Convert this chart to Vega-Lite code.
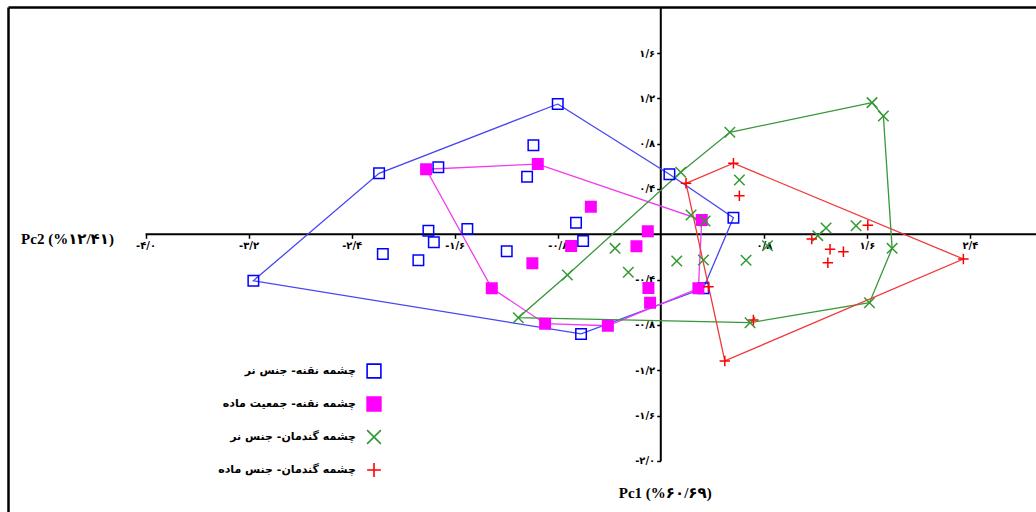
{
  "$schema": "https://vega.github.io/schema/vega-lite/v6.json",
  "width": 1028,
  "height": 505,
  "autosize": "none",
  "padding": {"left": 8, "top": 7, "right": 0, "bottom": 0},
  "background": "white",
  "config": {
    "view": {"stroke": null},
    "axis": {"grid": false, "labelColor": "black", "tickColor": "black", "domainColor": "black", "titleColor": "black"},
    "legend": {"orient": "none", "legendX": 358, "legendY": 356, "labelAlign": "right", "labelOffset": -26,
               "labelFont": "DejaVu Sans", "labelFontWeight": "bold", "labelFontSize": 11, "labelColor": "black",
               "symbolSize": 190, "symbolStrokeWidth": 1.6, "rowPadding": 11, "labelLimit": 300}
  },
  "resolve": {"axis": {"x": "independent", "y": "independent"}},
  "datasets": {
    "pts": [
      {"group": "چشمه نقنه- جنس نر", "x": -0.800, "y": 1.150},
      {"group": "چشمه نقنه- جنس نر", "x": 0.067, "y": 0.530},
      {"group": "چشمه نقنه- جنس نر", "x": 0.564, "y": 0.147},
      {"group": "چشمه نقنه- جنس نر", "x": 0.331, "y": -0.477},
      {"group": "چشمه نقنه- جنس نر", "x": -0.619, "y": -0.879},
      {"group": "چشمه نقنه- جنس نر", "x": -3.163, "y": -0.410},
      {"group": "چشمه نقنه- جنس نر", "x": -2.187, "y": 0.538},
      {"group": "چشمه نقنه- جنس نر", "x": -1.727, "y": 0.591},
      {"group": "چشمه نقنه- جنس نر", "x": -0.989, "y": 0.786},
      {"group": "چشمه نقنه- جنس نر", "x": -1.038, "y": 0.508},
      {"group": "چشمه نقنه- جنس نر", "x": -1.804, "y": 0.032},
      {"group": "چشمه نقنه- جنس نر", "x": -1.502, "y": 0.047},
      {"group": "چشمه نقنه- جنس نر", "x": -1.762, "y": -0.071},
      {"group": "چشمه نقنه- جنس نر", "x": -2.158, "y": -0.174},
      {"group": "چشمه نقنه- جنس نر", "x": -1.882, "y": -0.229},
      {"group": "چشمه نقنه- جنس نر", "x": -1.196, "y": -0.150},
      {"group": "چشمه نقنه- جنس نر", "x": -0.658, "y": 0.102},
      {"group": "چشمه نقنه- جنس نر", "x": -0.603, "y": -0.059},
      {"group": "چشمه نقنه- جمعیت ماده", "x": -1.822, "y": 0.574},
      {"group": "چشمه نقنه- جمعیت ماده", "x": -0.955, "y": 0.620},
      {"group": "چشمه نقنه- جمعیت ماده", "x": 0.318, "y": 0.126},
      {"group": "چشمه نقنه- جمعیت ماده", "x": 0.292, "y": -0.477},
      {"group": "چشمه نقنه- جمعیت ماده", "x": -0.411, "y": -0.807},
      {"group": "چشمه نقنه- جمعیت ماده", "x": -0.898, "y": -0.789},
      {"group": "چشمه نقنه- جمعیت ماده", "x": -1.312, "y": -0.477},
      {"group": "چشمه نقنه- جمعیت ماده", "x": -0.543, "y": 0.244},
      {"group": "چشمه نقنه- جمعیت ماده", "x": -0.101, "y": 0.026},
      {"group": "چشمه نقنه- جمعیت ماده", "x": -0.696, "y": -0.103},
      {"group": "چشمه نقنه- جمعیت ماده", "x": -0.189, "y": -0.106},
      {"group": "چشمه نقنه- جمعیت ماده", "x": -0.997, "y": -0.256},
      {"group": "چشمه نقنه- جمعیت ماده", "x": -0.096, "y": -0.474},
      {"group": "چشمه نقنه- جمعیت ماده", "x": -0.083, "y": -0.604},
      {"group": "چشمه گندمان- جنس نر", "x": 1.640, "y": 1.162},
      {"group": "چشمه گندمان- جنس نر", "x": 1.728, "y": 1.044},
      {"group": "چشمه گندمان- جنس نر", "x": 1.796, "y": -0.124},
      {"group": "چشمه گندمان- جنس نر", "x": 1.620, "y": -0.604},
      {"group": "چشمه گندمان- جنس نر", "x": 0.693, "y": -0.780},
      {"group": "چشمه گندمان- جنس نر", "x": -1.106, "y": -0.736},
      {"group": "چشمه گندمان- جنس نر", "x": -0.725, "y": -0.359},
      {"group": "چشمه گندمان- جنس نر", "x": 0.155, "y": 0.547},
      {"group": "چشمه گندمان- جنس نر", "x": 0.536, "y": 0.900},
      {"group": "چشمه گندمان- جنس نر", "x": 0.610, "y": 0.479},
      {"group": "چشمه گندمان- جنس نر", "x": 0.235, "y": 0.170},
      {"group": "چشمه گندمان- جنس نر", "x": 0.344, "y": 0.117},
      {"group": "چشمه گندمان- جنس نر", "x": 1.283, "y": 0.056},
      {"group": "چشمه گندمان- جنس نر", "x": 1.219, "y": -0.012},
      {"group": "چشمه گندمان- جنس نر", "x": 1.516, "y": 0.076},
      {"group": "چشمه گندمان- جنس نر", "x": 0.828, "y": -0.101},
      {"group": "چشمه گندمان- جنس نر", "x": 0.124, "y": -0.236},
      {"group": "چشمه گندمان- جنس نر", "x": 0.331, "y": -0.227},
      {"group": "چشمه گندمان- جنس نر", "x": 0.662, "y": -0.229},
      {"group": "چشمه گندمان- جنس نر", "x": -0.355, "y": -0.124},
      {"group": "چشمه گندمان- جنس نر", "x": -0.252, "y": -0.335},
      {"group": "چشمه گندمان- جنس ماده", "x": 0.196, "y": 0.450},
      {"group": "چشمه گندمان- جنس ماده", "x": 0.564, "y": 0.627},
      {"group": "چشمه گندمان- جنس ماده", "x": 2.349, "y": -0.218},
      {"group": "چشمه گندمان- جنس ماده", "x": 0.497, "y": -1.118},
      {"group": "چشمه گندمان- جنس ماده", "x": 0.610, "y": 0.341},
      {"group": "چشمه گندمان- جنس ماده", "x": 1.607, "y": 0.079},
      {"group": "چشمه گندمان- جنس ماده", "x": 1.172, "y": -0.041},
      {"group": "چشمه گندمان- جنس ماده", "x": 1.314, "y": -0.132},
      {"group": "چشمه گندمان- جنس ماده", "x": 1.418, "y": -0.154},
      {"group": "چشمه گندمان- جنس ماده", "x": 1.297, "y": -0.251},
      {"group": "چشمه گندمان- جنس ماده", "x": 0.370, "y": -0.462},
      {"group": "چشمه گندمان- جنس ماده", "x": 0.719, "y": -0.756}
    ],
    "hull": [
      {"group": "چشمه نقنه- جنس نر", "ord": 1, "x": -0.800, "y": 1.150},
      {"group": "چشمه نقنه- جنس نر", "ord": 2, "x": 0.067, "y": 0.530},
      {"group": "چشمه نقنه- جنس نر", "ord": 3, "x": 0.564, "y": 0.147},
      {"group": "چشمه نقنه- جنس نر", "ord": 4, "x": 0.331, "y": -0.477},
      {"group": "چشمه نقنه- جنس نر", "ord": 5, "x": -0.619, "y": -0.879},
      {"group": "چشمه نقنه- جنس نر", "ord": 6, "x": -3.163, "y": -0.410},
      {"group": "چشمه نقنه- جنس نر", "ord": 7, "x": -2.187, "y": 0.538},
      {"group": "چشمه نقنه- جنس نر", "ord": 8, "x": -0.800, "y": 1.150},
      {"group": "چشمه نقنه- جمعیت ماده", "ord": 1, "x": -1.822, "y": 0.574},
      {"group": "چشمه نقنه- جمعیت ماده", "ord": 2, "x": -0.955, "y": 0.620},
      {"group": "چشمه نقنه- جمعیت ماده", "ord": 3, "x": 0.318, "y": 0.126},
      {"group": "چشمه نقنه- جمعیت ماده", "ord": 4, "x": 0.292, "y": -0.477},
      {"group": "چشمه نقنه- جمعیت ماده", "ord": 5, "x": -0.411, "y": -0.807},
      {"group": "چشمه نقنه- جمعیت ماده", "ord": 6, "x": -0.898, "y": -0.789},
      {"group": "چشمه نقنه- جمعیت ماده", "ord": 7, "x": -1.312, "y": -0.477},
      {"group": "چشمه نقنه- جمعیت ماده", "ord": 8, "x": -1.822, "y": 0.574},
      {"group": "چشمه گندمان- جنس نر", "ord": 1, "x": 1.640, "y": 1.162},
      {"group": "چشمه گندمان- جنس نر", "ord": 2, "x": 1.728, "y": 1.044},
      {"group": "چشمه گندمان- جنس نر", "ord": 3, "x": 1.796, "y": -0.124},
      {"group": "چشمه گندمان- جنس نر", "ord": 4, "x": 1.620, "y": -0.604},
      {"group": "چشمه گندمان- جنس نر", "ord": 5, "x": 0.693, "y": -0.780},
      {"group": "چشمه گندمان- جنس نر", "ord": 6, "x": -1.106, "y": -0.736},
      {"group": "چشمه گندمان- جنس نر", "ord": 7, "x": -0.725, "y": -0.359},
      {"group": "چشمه گندمان- جنس نر", "ord": 8, "x": 0.155, "y": 0.547},
      {"group": "چشمه گندمان- جنس نر", "ord": 9, "x": 0.536, "y": 0.900},
      {"group": "چشمه گندمان- جنس نر", "ord": 10, "x": 1.640, "y": 1.162},
      {"group": "چشمه گندمان- جنس ماده", "ord": 1, "x": 0.196, "y": 0.450},
      {"group": "چشمه گندمان- جنس ماده", "ord": 2, "x": 0.564, "y": 0.627},
      {"group": "چشمه گندمان- جنس ماده", "ord": 3, "x": 2.349, "y": -0.218},
      {"group": "چشمه گندمان- جنس ماده", "ord": 4, "x": 0.497, "y": -1.118},
      {"group": "چشمه گندمان- جنس ماده", "ord": 5, "x": 0.196, "y": 0.450}
    ]
  },
  "layer": [
    {
      "data": {"values": [{"a": 1}]},
      "mark": {"type": "rule", "color": "black", "strokeWidth": 2},
      "encoding": {
        "x": {"datum": -4.0, "type": "quantitative",
              "scale": {"domain": [-5.068, 2.913], "nice": false, "zero": false},
              "axis": {"orient": "top", "domain": true, "domainWidth": 2.5, "ticks": false, "labels": false, "title": null, "grid": false}},
        "x2": {"datum": 2.913},
        "y": {"datum": 0, "type": "quantitative",
              "scale": {"domain": [-2.451, 2.006], "nice": false, "zero": false},
              "axis": {"orient": "left", "domain": true, "domainWidth": 2.5, "ticks": false, "labels": false, "title": null, "grid": false}}
      }
    },
    {
      "data": {"values": [{"a": 1}]},
      "mark": {"type": "rule", "color": "black", "strokeWidth": 2},
      "encoding": {
        "x": {"datum": 0, "type": "quantitative",
              "scale": {"domain": [-5.068, 2.913], "nice": false, "zero": false},
              "axis": {"orient": "bottom", "offset": -277.7, "domain": false, "grid": false,
                       "values": [-4.0, -3.2, -2.4, -1.6, -0.8, 0.8, 1.6, 2.4],
                       "labelExpr": "replace(replace(replace(replace(replace(replace(replace(replace(replace(replace(replace(replace(format(datum.value,'.1f'),'\u2212','-'),'.','/'),'0','۰'),'1','۱'),'2','۲'),'3','۳'),'4','۴'),'5','۵'),'6','۶'),'7','۷'),'8','۸'),'9','۹')",
                       "tickSize": 4, "tickWidth": 1.5, "labelPadding": 2,
                       "labelFont": "DejaVu Sans", "labelFontWeight": "bold", "labelFontSize": 10,
                       "title": "Pc2 (%۱۲/۴۱)", "titleX": 59, "titleY": 4, "titleAngle": 0,
                       "titleAlign": "center", "titleBaseline": "middle",
                       "titleFont": "Liberation Serif, DejaVu Sans", "titleFontWeight": "bold", "titleFontSize": 15}},
        "y": {"datum": -2.0, "type": "quantitative",
              "scale": {"domain": [-2.451, 2.006], "nice": false, "zero": false},
              "axis": {"orient": "left", "offset": -652.7, "domain": false, "grid": false,
                       "values": [-2.0, -1.6, -1.2, -0.8, -0.4, 0.4, 0.8, 1.2, 1.6],
                       "labelExpr": "replace(replace(replace(replace(replace(replace(replace(replace(replace(replace(replace(replace(format(datum.value,'.1f'),'\u2212','-'),'.','/'),'0','۰'),'1','۱'),'2','۲'),'3','۳'),'4','۴'),'5','۵'),'6','۶'),'7','۷'),'8','۸'),'9','۹')",
                       "tickSize": 4, "tickWidth": 1.5, "labelPadding": 2,
                       "labelFont": "DejaVu Sans", "labelFontWeight": "bold", "labelFontSize": 10,
                       "title": "Pc1 (%۶۰/۶۹)", "titleX": 4, "titleY": 485, "titleAngle": 0,
                       "titleAlign": "center", "titleBaseline": "middle",
                       "titleFont": "Liberation Serif, DejaVu Sans", "titleFontWeight": "bold", "titleFontSize": 15}},
        "y2": {"datum": 2.006}
      }
    },
    {
      "data": {"name": "hull"},
      "mark": {"type": "line", "strokeWidth": 1.3},
      "encoding": {
        "x": {"field": "x", "type": "quantitative", "scale": {"domain": [-5.068, 2.913], "nice": false, "zero": false}, "axis": null},
        "y": {"field": "y", "type": "quantitative", "scale": {"domain": [-2.451, 2.006], "nice": false, "zero": false}, "axis": null},
        "order": {"field": "ord", "type": "quantitative"},
        "color": {"field": "group", "type": "nominal", "legend": null,
                  "sort": ["چشمه نقنه- جنس نر", "چشمه نقنه- جمعیت ماده", "چشمه گندمان- جنس نر", "چشمه گندمان- جنس ماده"],
                  "scale": {"range": ["#4646f2", "#f03cf0", "#3a963a", "#f03a3a"]}}
      }
    },
    {
      "data": {"name": "pts"},
      "mark": {"type": "point", "size": 110, "strokeWidth": 1.5, "opacity": 1},
      "encoding": {
        "x": {"field": "x", "type": "quantitative", "scale": {"domain": [-5.068, 2.913], "nice": false, "zero": false}, "axis": null},
        "y": {"field": "y", "type": "quantitative", "scale": {"domain": [-2.451, 2.006], "nice": false, "zero": false}, "axis": null},
        "shape": {"field": "group", "type": "nominal",
                  "scale": {"domain": ["چشمه نقنه- جنس نر", "چشمه نقنه- جمعیت ماده", "چشمه گندمان- جنس نر", "چشمه گندمان- جنس ماده"],
                            "range": ["square", "square", "M-1,-1L1,1M-1,1L1,-1", "M-1,0L1,0M0,-1L0,1"]},
                  "legend": {"title": null}},
        "stroke": {"field": "group", "type": "nominal",
                   "scale": {"domain": ["چشمه نقنه- جنس نر", "چشمه نقنه- جمعیت ماده", "چشمه گندمان- جنس نر", "چشمه گندمان- جنس ماده"],
                             "range": ["#0000ff", "#ff00ff", "#339933", "#ff0000"]},
                   "legend": {"title": null}},
        "fill": {"field": "group", "type": "nominal",
                 "scale": {"domain": ["چشمه نقنه- جنس نر", "چشمه نقنه- جمعیت ماده", "چشمه گندمان- جنس نر", "چشمه گندمان- جنس ماده"],
                           "range": ["rgba(0,0,0,0)", "#ff00ff", "rgba(0,0,0,0)", "rgba(0,0,0,0)"]},
                 "legend": {"title": null}}
      }
    }
  ]
}
